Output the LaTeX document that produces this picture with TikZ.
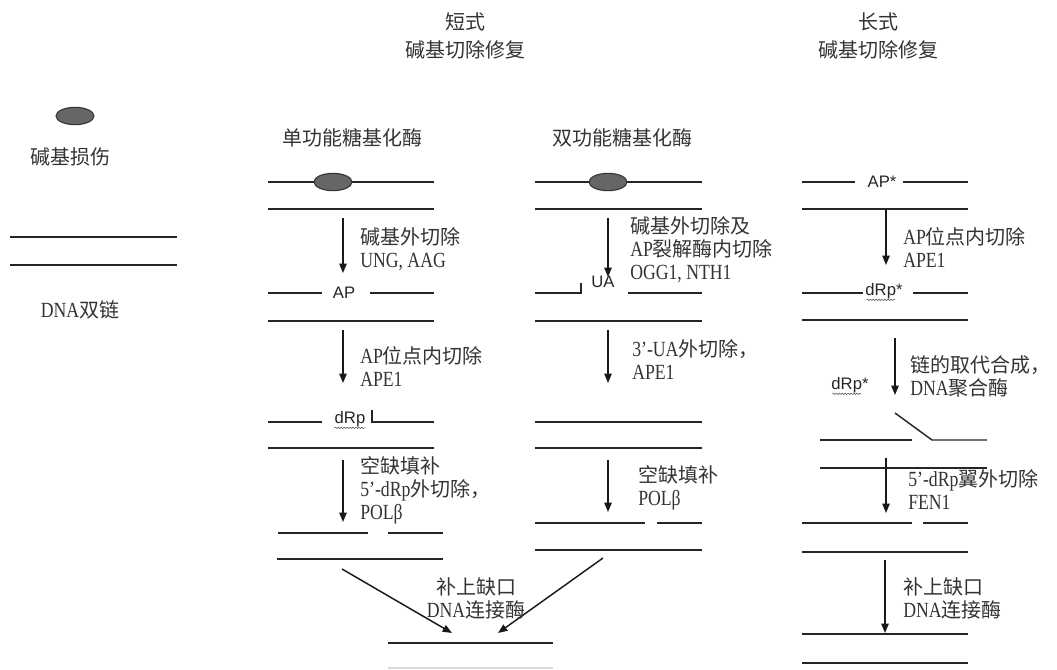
\documentclass[tikz,border=0pt]{standalone}
\usepackage{fontspec}
\setmainfont{Liberation Serif}
\newfontfamily\cjk{Noto Sans CJK SC}
\newfontfamily\latn[FakeStretch=0.82,Scale=1.08]{Liberation Serif}
\newfontfamily\sanslbl{Liberation Sans}
\usetikzlibrary{arrows.meta,decorations.pathmorphing,shapes.geometric}
\newcommand\Lt[1]{{\latn #1}}
\begin{document}
\begin{tikzpicture}[x=0.75pt,y=-0.75pt,
 dna/.style={line width=1.4pt, black!85},
 dnathin/.style={line width=1.1pt, black!85},
 arr/.style={line width=1.1pt, black!90, -{Triangle[length=7pt,width=5.5pt]}},
 lbl/.style={anchor=west, inner sep=0pt, align=left, font=\cjk\fontsize{15}{17.25}\selectfont, text=black!80},
 clbl/.style={inner sep=0pt, align=center, font=\cjk\fontsize{15}{17.25}\selectfont, text=black!80},
 hdr/.style={inner sep=0pt, align=center, font=\cjk\fontsize{15}{21}\selectfont, text=black!80},
 site/.style={inner sep=0pt, font=\sanslbl\fontsize{12.5}{13}\selectfont, text=black!85},
 wavy/.style={decorate, decoration={snake, amplitude=0.5pt, segment length=2.2pt}, black!60, line width=0.5pt},
 lesion/.style={ellipse, draw=black!80, fill=black!60, minimum width=28.5pt, minimum height=13pt, inner sep=0pt, line width=0.8pt}]
\useasboundingbox (0,0) rectangle (1057,669);

% headers
\node[hdr] (h1) at (465,36) {短式\\碱基切除修复};
\node[hdr] (h2) at (878,36) {长式\\碱基切除修复};

% legend
\node[lesion] (leg) at (75,116) {};
\node[clbl] (legt) at (71,157) {碱基损伤};
\draw[dna] (10,237) -- (177,237);
\draw[dna] (10,265) -- (177,265);
\node[clbl] (dnat) at (80,310) {\Lt{DNA}双链};

% ===== column 1 =====
\node[clbl] (t1) at (352,138) {单功能糖基化酶};
\draw[dnathin] (268,182) -- (434,182);
\node[lesion] (les1) at (333,182) {};
\draw[dna] (268,209) -- (434,209);
\coordinate (c1a) at (343,218); \coordinate (c1b) at (343,273);
\draw[arr] (c1a) -- (c1b);
\node[lbl] (l1a) at (360,249) {碱基外切除\\\Lt{UNG, AAG}};
\node[site] (ap1) at (344,293) {AP};
\draw[dnathin] (268,293) -- (322,293);
\draw[dnathin] (370,293) -- (434,293);
\draw[dna] (268,321) -- (434,321);
\coordinate (c1c) at (343,330); \coordinate (c1d) at (343,383);
\draw[arr] (c1c) -- (c1d);
\node[lbl] (l1b) at (360,367) {\Lt{AP}位点内切除\\\Lt{APE1}};
\node[site] (drp1) at (350,419) {dRp};
\draw[wavy] ([yshift=-0.6pt]drp1.south west) -- ([yshift=-0.6pt]drp1.south east);
\draw[dnathin] (268,422) -- (322,422);
\draw[dnathin] (372,410) -- (372,422) -- (434,422);
\draw[dna] (268,448) -- (434,448);
\coordinate (c1e) at (343,460); \coordinate (c1f) at (343,522);
\draw[arr] (c1e) -- (c1f);
\node[lbl] (l1c) at (360,490) {空缺填补\\\Lt{5’-dRp}外切除，\\\Lt{POLβ}};
\draw[dnathin] (278,533) -- (368,533);
\draw[dnathin] (388,533) -- (443,533);
\draw[dna] (277,559) -- (443,559);

% merge
\coordinate (m1) at (342,569); \coordinate (m1e) at (452,633);
\coordinate (m2) at (603,558); \coordinate (m2e) at (498,633);
\draw[arr] (m1) -- (m1e);
\draw[arr] (m2) -- (m2e);
\node[clbl] (lig1) at (476,598) {补上缺口\\\Lt{DNA}连接酶};
\draw[dnathin] (388,643) -- (553,643);
\draw[line width=0.8pt, black!15] (388,668) -- (553,668);

% ===== column 2 =====
\node[clbl] (t2) at (622,138) {双功能糖基化酶};
\draw[dnathin] (535,182) -- (702,182);
\node[lesion] (les2) at (608,182) {};
\draw[dna] (535,209) -- (702,209);
\coordinate (c2a) at (608,218); \coordinate (c2b) at (608,277);
\draw[arr] (c2a) -- (c2b);
\node[lbl] (l2a) at (630,250) {碱基外切除及\\\Lt{AP}裂解酶内切除\\\Lt{OGG1, NTH1}};
\node[site] (ua) at (603,282) {UA};
\draw[dnathin] (535,293) -- (581,293) -- (581,283);
\draw[dnathin] (628,293) -- (702,293);
\draw[dna] (535,321) -- (702,321);
\coordinate (c2c) at (608,330); \coordinate (c2d) at (608,383);
\draw[arr] (c2c) -- (c2d);
\node[lbl] (l2b) at (632,360) {\Lt{3’-UA}外切除，\\\Lt{APE1}};
\draw[dnathin] (535,422) -- (702,422);
\draw[dna] (535,448) -- (702,448);
\coordinate (c2e) at (608,460); \coordinate (c2f) at (608,512);
\draw[arr] (c2e) -- (c2f);
\node[lbl] (l2c) at (638,488) {空缺填补\\\Lt{POLβ}};
\draw[dnathin] (535,523) -- (645,523);
\draw[dnathin] (657,523) -- (702,523);
\draw[dna] (535,550) -- (702,550);

% ===== column 3 =====
\node[site] (aps) at (882,182) {AP*};
\draw[dnathin] (802,182) -- (855,182);
\draw[dnathin] (903,182) -- (968,182);
\draw[dna] (802,209) -- (968,209);
\coordinate (c3a) at (886,209); \coordinate (c3b) at (886,265);
\draw[arr] (c3a) -- (c3b);
\node[lbl] (l3a) at (903,248) {\Lt{AP}位点内切除\\\Lt{APE1}};
\node[site] (drps) at (884,291) {dRp*};
\draw[wavy] ([yshift=-0.6pt,xshift=1pt]drps.south west) -- ([yshift=-0.6pt,xshift=-6pt]drps.south east);
\draw[dnathin] (802,293) -- (863,293);
\draw[dnathin] (913,293) -- (968,293);
\draw[dna] (802,320) -- (968,320);
\coordinate (c3c) at (895,338); \coordinate (c3d) at (895,395);
\draw[arr] (c3c) -- (c3d);
\node[lbl] (l3b) at (910,376) {链的取代合成，\\\Lt{DNA}聚合酶};
\node[site] (drpf) at (850,385) {dRp*};
\draw[wavy] ([yshift=-0.6pt,xshift=1pt]drpf.south west) -- ([yshift=-0.6pt,xshift=-6pt]drpf.south east);
\draw[dna] (820,440) -- (912,440);
\draw[dnathin] (895,413) -- (932,440) -- (987,440);
\draw[line width=0.8pt, black!85] (820,468) -- (987,468);
\coordinate (c3e) at (886,458); \coordinate (c3f) at (886,513);
\draw[arr] (c3e) -- (c3f);
\node[lbl] (l3c) at (908,490) {\Lt{5’-dRp}翼外切除\\\Lt{FEN1}};
\draw[dnathin] (802,523) -- (912,523);
\draw[dnathin] (923,523) -- (968,523);
\draw[dna] (802,552) -- (968,552);
\coordinate (c3g) at (885,560); \coordinate (c3h) at (885,633);
\draw[arr] (c3g) -- (c3h);
\node[lbl] (l3d) at (903,598) {补上缺口\\\Lt{DNA}连接酶};
\draw[dna] (802,634) -- (968,634);
\draw[dna] (802,663) -- (968,663);
\end{tikzpicture}
\end{document}
